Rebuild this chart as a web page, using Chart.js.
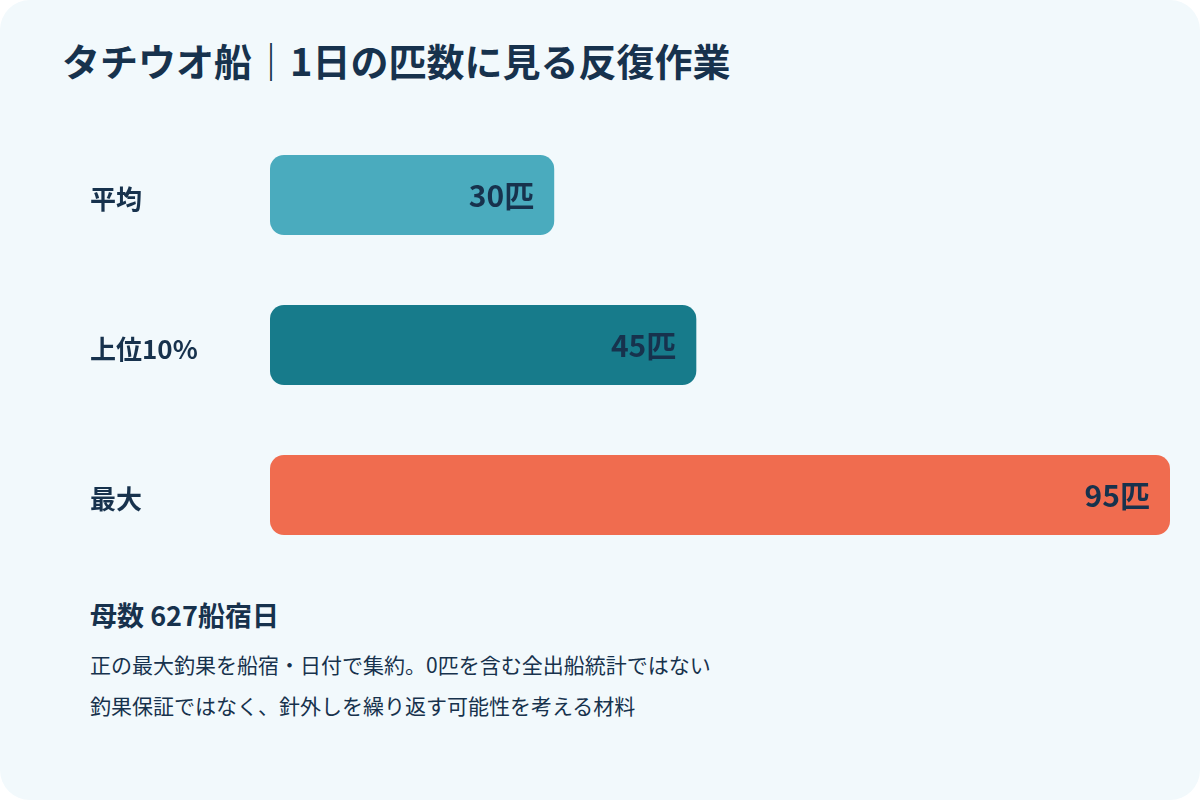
<!DOCTYPE html>
<html lang="ja">
<head>
<meta charset="utf-8">
<title>タチウオ船｜1日の匹数に見る反復作業</title>
<script src="https://cdn.jsdelivr.net/npm/chart.js@4"></script>
<style>
  html, body { margin: 0; padding: 0; background: #ffffff; }
  body { width: 1200px; height: 800px; overflow: hidden; font-family: "Noto Sans CJK JP", "Noto Sans", sans-serif; color: #17324d; }
  .card { position: absolute; left: 0; top: 0; width: 1200px; height: 800px; background: #f2f9fc; border-radius: 30px; }
  h1 { position: absolute; left: 62px; top: 34px; margin: 0; font-size: 38px; font-weight: 700; line-height: 52px; letter-spacing: 0; }
  #chart-box { position: absolute; left: 90px; top: 112px; width: 1080px; height: 466px; }
  .note-head { position: absolute; left: 90px; top: 596px; font-size: 27px; font-weight: 700; line-height: 38px; }
  .note { position: absolute; left: 90px; font-size: 21px; font-weight: 400; line-height: 30px; }
</style>
</head>
<body>
<div class="card">
  <h1>タチウオ船｜1日の匹数に見る反復作業</h1>
  <div id="chart-box"><canvas id="bar-chart"></canvas></div>
  <div class="note-head">母数 627船宿日</div>
  <div class="note" style="top: 649px;">正の最大釣果を船宿・日付で集約。0匹を含む全出船統計ではない</div>
  <div class="note" style="top: 690px;">釣果保証ではなく、針外しを繰り返す可能性を考える材料</div>
</div>
<script>
// データ
const categories = ['平均', '上位10%', '最大'];
const catchCounts = [30, 45, 95];
const barColors = ['#4aabbe', '#177b8b', '#f06c4f'];
const unit = '匹';

// バーの右端に値を描く
const valueLabels = {
    id: 'valueLabels',
    afterDatasetsDraw(chart) {
        const ctx = chart.ctx;
        const meta = chart.getDatasetMeta(0);
        ctx.save();
        ctx.font = '700 30px "Noto Sans CJK JP", "Noto Sans", sans-serif';
        ctx.fillStyle = '#17324d';
        ctx.textAlign = 'right';
        ctx.textBaseline = 'middle';
        meta.data.forEach(function (bar, i) {
            ctx.fillText(catchCounts[i] + unit, bar.x - 20, bar.y + 1);
        });
        ctx.restore();
    }
};

const ctx = document.getElementById('bar-chart').getContext('2d');
new Chart(ctx, {
    type: 'bar',
    data: {
        // 空行を先頭に入れてラベルを少し下げる
        labels: categories.map(c => ['', c]),
        datasets: [{
            data: catchCounts,
            backgroundColor: barColors,
            borderRadius: 14,
            borderSkipped: false,
            categoryPercentage: 1,
            barPercentage: 80 / 150
        }]
    },
    options: {
        indexAxis: 'y',
        responsive: true,
        maintainAspectRatio: false,
        animation: false,
        layout: { padding: 0 },
        plugins: {
            legend: { display: false },
            tooltip: { enabled: false }
        },
        scales: {
            x: { min: 0, max: 95, display: false },
            y: {
                grid: { display: false },
                border: { display: false },
                ticks: {
                    crossAlign: 'far',
                    padding: 0,
                    color: '#17324d',
                    font: { family: '"Noto Sans CJK JP", "Noto Sans", sans-serif', size: 26, weight: '700', lineHeight: '8px' }
                },
                afterFit: function (scale) { scale.width = 180; }
            }
        }
    },
    plugins: [valueLabels]
});
</script>
</body>
</html>
